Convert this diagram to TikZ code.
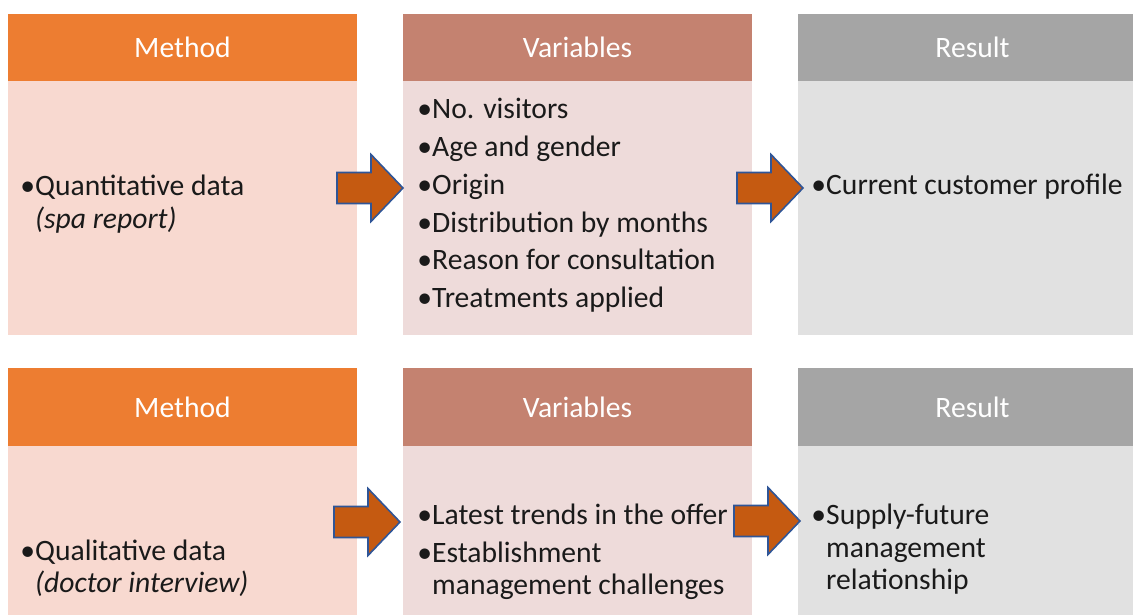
\documentclass[tikz,border=0pt]{standalone}
\usepackage{fontspec}
\setmainfont{Carlito}
\definecolor{methodhead}{HTML}{ED7D31}
\definecolor{methodbody}{HTML}{F8D9D0}
\definecolor{varhead}{HTML}{C48270}
\definecolor{varbody}{HTML}{EEDBDA}
\definecolor{reshead}{HTML}{A5A5A5}
\definecolor{resbody}{HTML}{E1E1E1}
\definecolor{arrowfill}{HTML}{C55A11}
\definecolor{arrowline}{HTML}{2F5597}
\definecolor{bodytext}{HTML}{1A1A1A}
\newcommand\fsz{\fontsize{29.6}{33}\selectfont}
\newcommand\bl{\makebox[0pt][r]{•}}
\tikzset{
  panel/.style={anchor=north west, inner sep=0pt, outer sep=0pt, draw=none},
  hdr/.style={panel, text=white, font=\fsz},
  txt/.style={anchor=base west, inner sep=0pt, text=bodytext, font=\fsz},
  blockarrow/.style={fill=arrowfill, draw=arrowline, line width=1.6pt, line join=miter}
}
\begin{document}
\begin{tikzpicture}[x=1pt,y=-1pt]
\useasboundingbox (0,0) rectangle (1133,615);
% top row
\node[panel, fill=methodbody, minimum width=349pt, minimum height=254pt] (mb1) at (8,81) {};
\node[hdr, fill=methodhead, minimum width=349pt, minimum height=67pt] (mh1) at (8,14) {Method};
\node[panel, fill=varbody, minimum width=349pt, minimum height=254pt] (vb1) at (403,81) {};
\node[hdr, fill=varhead, minimum width=349pt, minimum height=67pt] (vh1) at (403,14) {Variables};
\node[panel, fill=resbody, minimum width=349pt, minimum height=254pt] (rb1) at (798,81) {};
\node[hdr, fill=reshead, minimum width=349pt, minimum height=67pt] (rh1) at (798,14) {Result};
% bottom row
\node[panel, fill=methodbody, minimum width=349pt, minimum height=169pt] (mb2) at (8,446) {};
\node[hdr, fill=methodhead, minimum width=349pt, minimum height=78pt] (mh2) at (8,368) {Method};
\node[panel, fill=varbody, minimum width=349pt, minimum height=169pt] (vb2) at (403,446) {};
\node[hdr, fill=varhead, minimum width=349pt, minimum height=78pt] (vh2) at (403,368) {Variables};
\node[panel, fill=resbody, minimum width=349pt, minimum height=169pt] (rb2) at (798,446) {};
\node[hdr, fill=reshead, minimum width=349pt, minimum height=78pt] (rh2) at (798,368) {Result};
% top texts
\node[txt] (t1a) at (35,195) {\bl Quantitative data};
\node[txt] (t1b) at (35,228) {\itshape (spa report)};
\node[txt] (v1a) at (432,119) {\bl No. visitors};
\node[txt] (v1b) at (432,157) {\bl Age and gender};
\node[txt] (v1c) at (432,194) {\bl Origin};
\node[txt] (v1d) at (432,232) {\bl Distribution by months};
\node[txt] (v1e) at (432,269) {\bl Reason for consultation};
\node[txt] (v1f) at (432,307) {\bl Treatments applied};
\node[txt] (r1a) at (826,194) {\bl Current customer profile};
% bottom texts
\node[txt] (t2a) at (35,560) {\bl Qualitative data};
\node[txt] (t2b) at (35,592) {\itshape (doctor interview)};
\node[txt] (v2a) at (432,524) {\bl Latest trends in the offer};
\node[txt] (v2b) at (432,562) {\bl Establishment};
\node[txt] (v2c) at (432,594) {management challenges};
\node[txt] (r2a) at (826,524) {\bl Supply-future};
\node[txt] (r2b) at (826,557) {management};
\node[txt] (r2c) at (826,589) {relationship};
% block arrows
\draw[blockarrow] (337,188) ++(0,-15.5) -- ++(34,0) -- ++(0,-18) -- ++(32,33.5) -- ++(-32,33.5) -- ++(0,-18) -- ++(-34,0) -- cycle;
\draw[blockarrow] (737,188) ++(0,-15.5) -- ++(34,0) -- ++(0,-18) -- ++(32,33.5) -- ++(-32,33.5) -- ++(0,-18) -- ++(-34,0) -- cycle;
\draw[blockarrow] (334,522) ++(0,-15.5) -- ++(34,0) -- ++(0,-18) -- ++(32,33.5) -- ++(-32,33.5) -- ++(0,-18) -- ++(-34,0) -- cycle;
\draw[blockarrow] (734,521) ++(0,-15.5) -- ++(34,0) -- ++(0,-18) -- ++(32,33.5) -- ++(-32,33.5) -- ++(0,-18) -- ++(-34,0) -- cycle;
\end{tikzpicture}
\end{document}
